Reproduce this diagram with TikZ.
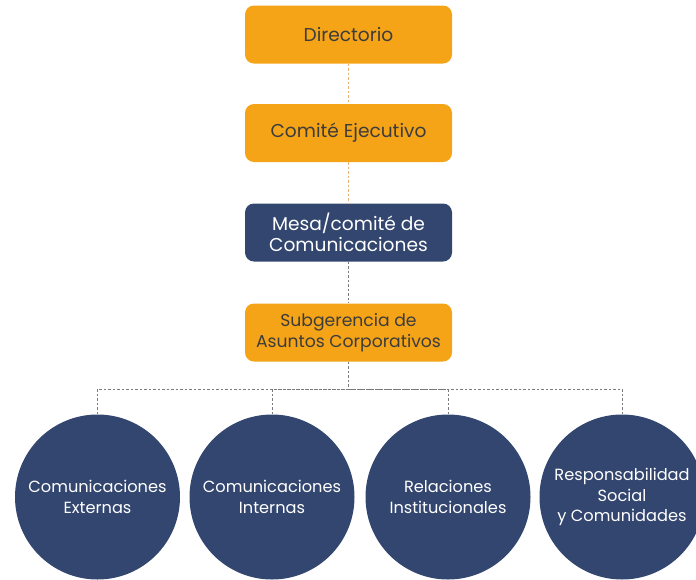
\documentclass[tikz,border=0pt]{standalone}
\usepackage{fontspec}
\setmainfont{Poppins}
\definecolor{orangebox}{HTML}{F5A418}
\definecolor{navy}{HTML}{33466F}
\definecolor{darktext}{HTML}{3C3C3C}
\definecolor{orangeline}{HTML}{E9B27A}
\definecolor{grayline}{HTML}{7A7A7A}
\begin{document}
\begin{tikzpicture}[x=1pt,y=-1pt,
  obox/.style={fill=orangebox, rounded corners=9pt, minimum width=207pt, minimum height=58pt, text=darktext, align=center, inner sep=0pt},
  nbox/.style={fill=navy, rounded corners=9pt, minimum width=207pt, minimum height=58pt, text=white, align=center, inner sep=0pt},
  circ/.style={circle, fill=navy, minimum size=165pt, inner sep=0pt, text=white, align=center, font=\fontsize{16.2}{20.5}\selectfont},
  oline/.style={draw=orangeline, line width=0.8pt, dash pattern=on 2.5pt off 2pt},
  gline/.style={draw=grayline, line width=0.8pt, dash pattern=on 2.5pt off 2pt}]
\useasboundingbox (0,0) rectangle (696,579);
\clip (0,0) rectangle (696,579);
\node[obox, font=\fontsize{18.6}{22}\selectfont] (dir) at (348.5,34.5) {Directorio};
\node[obox, font=\fontsize{18.6}{22}\selectfont] (ce) at (348.5,133) {Comité Ejecutivo};
\node[nbox, font=\fontsize{18.6}{21}\selectfont] (mesa) at (348.5,232.5) {Mesa/comité de\\Comunicaciones};
\node[obox, font=\fontsize{17.2}{20.5}\selectfont] (sub) at (348.5,332.5) {Subgerencia de\\Asuntos Corporativos};
\node[circ] (c1) at (97.5,497) {Comunicaciones\\Externas};
\node[circ] (c2) at (272,497) {Comunicaciones\\Internas};
\node[circ] (c3) at (448,497) {Relaciones\\Institucionales};
\node[circ] (c4) at (622,497) {Responsabilidad\\Social\\y Comunidades};
\coordinate (bar) at (348.5,389);
\draw[oline] (dir.south) -- (ce.north);
\draw[oline] (ce.south) -- (mesa.north);
\draw[gline] (mesa.south) -- (sub.north);
\draw[gline] (sub.south) -- (bar);
\draw[gline] (c1.north) |- (bar);
\draw[gline] (c2.north) |- (bar);
\draw[gline] (c3.north) |- (bar);
\draw[gline] (c4.north) |- (bar);
\end{tikzpicture}
\end{document}
